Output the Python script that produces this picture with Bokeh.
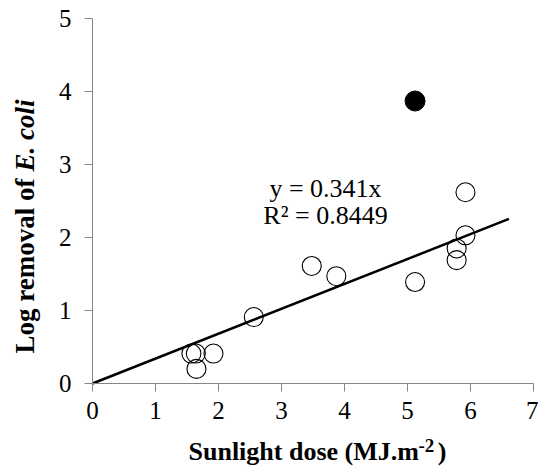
import math
from bokeh.plotting import figure
from bokeh.models import Range1d, FixedTicker, Label
from bokeh.embed import file_html
from bokeh.resources import INLINE

# Sunlight dose (MJ/m2) and log removal of E. coli for each trial
dose = [1.57, 1.64, 1.65, 1.92, 2.56, 3.48, 3.87, 5.12, 5.78, 5.78, 5.92, 5.92]
log_removal = [0.41, 0.41, 0.20, 0.41, 0.91, 1.61, 1.47, 1.39, 1.69, 1.85, 2.03, 2.62]

# Trial excluded from the fit (solid marker)
outlier_dose = [5.12]
outlier_removal = [3.87]

# Linear fit through the origin
slope = 0.341
r_squared = 0.8449
fit_x = [0.0, 6.61]
fit_y = [slope * x for x in fit_x]

x_ticks = [0, 1, 2, 3, 4, 5, 6, 7]
y_ticks = [0, 1, 2, 3, 4, 5]

SERIF = "Liberation Serif"
AXIS_GREY = "#878787"

W, H = 538, 466
# Pixel placement of the axes inside the canvas
X0_PX, X_PX_PER_UNIT = 92.0, 63.0
Y0_PX, Y_PX_PER_UNIT = 383.0, 73.0
# Bokeh draws "alphabetic" text slightly below the requested baseline
BASE_SHIFT = 9.0

def dx(px):
    return (px - X0_PX) / X_PX_PER_UNIT

def dy(py):
    return (Y0_PX - py) / Y_PX_PER_UNIT

# The frame spans the whole canvas; axes are pinned at the origin so that
# titles and tick labels all live inside the drawable area.
p = figure(
    width=W, height=H,
    output_backend="svg", toolbar_location=None,
    x_range=Range1d(dx(0), dx(W)), y_range=Range1d(dy(H), dy(0)),
    min_border_left=0, min_border_right=0,
    min_border_top=0, min_border_bottom=0,
)
p.outline_line_color = None
p.xgrid.grid_line_color = None
p.ygrid.grid_line_color = None
p.background_fill_color = "white"
p.border_fill_color = "white"

for ax, ticks in ((p.xaxis[0], x_ticks), (p.yaxis[0], y_ticks)):
    ax.ticker = FixedTicker(ticks=ticks)
    ax.fixed_location = 0
    ax.bounds = (ticks[0], ticks[-1])
    ax.axis_line_color = AXIS_GREY
    ax.axis_line_width = 1
    ax.major_tick_line_color = AXIS_GREY
    ax.major_tick_in = 0
    ax.major_tick_out = 8
    ax.minor_tick_line_color = None
    ax.major_label_text_font = SERIF
    ax.major_label_text_font_size = "25px"
    ax.major_label_text_color = "black"

p.xaxis[0].major_label_standoff = 10
p.yaxis[0].major_label_standoff = 13

# Fitted line, then observations on top
p.line(fit_x, fit_y, line_color="black", line_width=2.5)
p.scatter(dose, log_removal, marker="circle", size=19,
          line_color="black", line_width=1.1, fill_color=None)
p.scatter(outlier_dose, outlier_removal, marker="circle", size=20,
          line_color="black", fill_color="black")

# Fit equation and coefficient of determination
eq_style = dict(text_font=SERIF, text_font_size="26px", text_color="black",
                text_align="center", text_baseline="alphabetic")
p.add_layout(Label(x=dx(325), y=dy(196.7 - BASE_SHIFT), text=f"y = {slope}x", **eq_style))
p.add_layout(Label(x=dx(325), y=dy(224.3 - BASE_SHIFT), text=f"R\u00b2 = {r_squared}", **eq_style))

# X-axis title with superscript exponent
title_style = dict(text_font=SERIF, text_color="black", text_baseline="alphabetic")
p.add_layout(Label(x=dx(188), y=dy(460 - BASE_SHIFT), text="Sunlight dose (MJ.m",
                   text_font_style="bold", text_font_size="26px",
                   text_align="left", **title_style))
p.add_layout(Label(x=dx(418), y=dy(451 - 6), text="-2",
                   text_font_style="bold", text_font_size="19px",
                   text_align="left", **title_style))
p.add_layout(Label(x=dx(446), y=dy(460 - BASE_SHIFT), text=")",
                   text_font_style="bold", text_font_size="26px",
                   text_align="right", **title_style))

# Y-axis title, rotated, with the organism name in italics
p.add_layout(Label(x=dx(33 - BASE_SHIFT), y=dy(353), text="Log removal of",
                   angle=math.pi / 2, text_font_style="bold",
                   text_font_size="27px", text_align="left", **title_style))
p.add_layout(Label(x=dx(33 - BASE_SHIFT), y=dy(171), text="E. coli",
                   angle=math.pi / 2, text_font_style="bold italic",
                   text_font_size="27px", text_align="left", **title_style))

with open("out.html", "w") as f:
    f.write(file_html(p, INLINE))
